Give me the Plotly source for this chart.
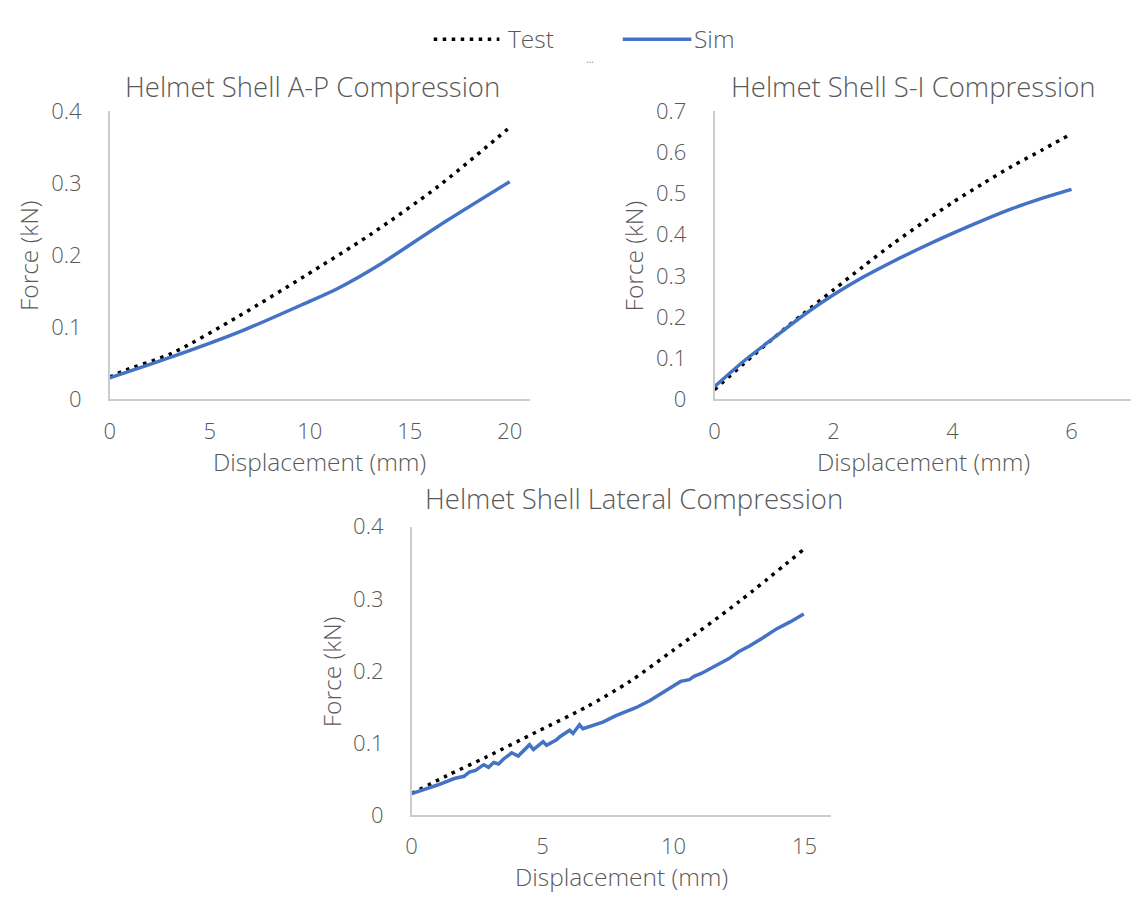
import plotly.graph_objects as go

W, H = 1133, 901

# ---------------- data ----------------
# A-P compression
ap_test_x = [0, 0.62, 3.1, 6.42, 9.74, 13.05, 16.4, 19.9]
ap_test_y = [0.031, 0.039, 0.064, 0.115, 0.171, 0.229, 0.295, 0.375]
ap_sim_x = [0, 3.1, 6.42, 9.74, 11.4, 13.55, 16.4, 20.0]
ap_sim_y = [0.030, 0.059, 0.093, 0.133, 0.154, 0.188, 0.240, 0.302]

# S-I compression
si_test_x = [0, 0.5, 1, 1.5, 2, 2.5, 3, 3.5, 4, 4.5, 5, 5.5, 5.95]
si_test_y = [0.024, 0.088, 0.150, 0.209, 0.266, 0.323, 0.378, 0.429, 0.478, 0.523, 0.566, 0.605, 0.641]
si_sim_x = [0, 0.5, 1, 1.5, 2, 2.5, 3, 3.5, 4, 4.5, 5, 5.5, 6]
si_sim_y = [0.031, 0.094, 0.150, 0.205, 0.254, 0.297, 0.335, 0.370, 0.403, 0.434, 0.463, 0.488, 0.510]

# Lateral compression
lat_test_x = [0, 1.36, 2.87, 4.77, 6.67, 8.31, 10, 12.5, 14.95]
lat_test_y = [0.030, 0.055, 0.081, 0.1155, 0.150, 0.185, 0.229, 0.296, 0.368]
lat_sim_x = [0, 0.99, 1.63, 2.0, 2.2, 2.44, 2.75, 2.94, 3.13, 3.32, 3.5, 3.82, 4.07, 4.5,
             4.65, 5.02, 5.15, 5.53, 5.66, 6.03, 6.16, 6.41, 6.54, 7.04, 7.3, 7.8, 8.56,
             9.1, 9.75, 10.27, 10.6, 10.8, 11.06, 11.58, 12.1, 12.5, 12.9, 13.4, 13.93,
             14.45, 14.97]
lat_sim_y = [0.030, 0.0418, 0.0508, 0.0539, 0.0597, 0.062, 0.070, 0.0664, 0.073, 0.0709,
             0.0776, 0.0865, 0.082, 0.0977, 0.091, 0.102, 0.0968, 0.1044, 0.1088, 0.1178,
             0.1133, 0.1253, 0.120, 0.1267, 0.129, 0.138, 0.149, 0.159, 0.174, 0.1855,
             0.188, 0.193, 0.1965, 0.2065, 0.2168, 0.227, 0.2346, 0.2458, 0.2583, 0.268,
             0.279]

titles = ["Helmet Shell A-P Compression", "Helmet Shell S-I Compression",
          "Helmet Shell Lateral Compression"]
x_label = "Displacement (mm)"
y_label = "Force (kN)"
series_names = ["Test", "Sim"]

# ---------------- style ----------------
FONT = "Open Sans"
WEIGHT = 300
TXT = "#595959"
AXC = "#CCCCCC"
BLUE = "#4472C4"
DOT = "3.5px,5.5px"


def px(x):
    return x / W


def py(y):
    return 1 - y / H


def f(size, color=TXT):
    return dict(family=FONT, size=size, color=color, weight=WEIGHT)


fig = go.Figure()

panels = [
    ("", (ap_test_x, ap_test_y), (ap_sim_x, ap_sim_y), (104.3, 526.5, 98.3, 396.7), [0, 21], 5, [0, 0.4], "spline"),
    ("2", (si_test_x, si_test_y), (si_sim_x, si_sim_y), (712.3, 1131, 98.3, 396.7), [0, 7], 2, [0, 0.7], "spline"),
    ("3", (lat_test_x, lat_test_y), (lat_sim_x, lat_sim_y), (407.8, 829.1, 528.3, 826.7), [0, 16], 5, [0, 0.4], "linear"),
]

for aid, (tx, ty), (sx, sy), (x0, x1, y0, y1), xr, dt, yr, simshape in panels:
    fig.add_trace(go.Scatter(x=tx, y=ty, mode="lines", name=series_names[0],
                             line=dict(color="black", width=3.5, dash=DOT, shape="spline", smoothing=0.8),
                             xaxis="x" + aid, yaxis="y" + aid, showlegend=False))
    sim_line = dict(color=BLUE, width=3.5, shape=simshape)
    if simshape == "spline":
        sim_line["smoothing"] = 0.8
    fig.add_trace(go.Scatter(x=sx, y=sy, mode="lines", name=series_names[1], line=sim_line,
                             xaxis="x" + aid, yaxis="y" + aid, showlegend=False))
    common = dict(showgrid=False, zeroline=False, showline=True, linecolor=AXC, linewidth=1.6,
                  ticks="", tickfont=f(22), fixedrange=True)
    fig.update_layout(**{
        "xaxis" + aid: dict(domain=[px(x0), px(x1)], range=xr, dtick=dt, tick0=0,
                            anchor="y" + aid, ticklabelstandoff=11, **common),
        "yaxis" + aid: dict(domain=[py(y1), py(y0)], range=yr, dtick=0.1, tick0=0,
                            anchor="x" + aid, ticklabelstandoff=22, **common),
    })

ann = []
for t, (cx, cy) in zip(titles, [(308.5, 73), (912, 73), (631, 499)]):
    ann.append(dict(text=t, x=px(cx), y=py(cy), xref="paper", yref="paper", showarrow=False,
                    xanchor="center", yanchor="middle", font=f(27.5)))
for (cx, cy) in [(315, 461), (922, 461), (618.5, 890)]:
    ann.append(dict(text=x_label, x=px(cx), y=py(cy), xref="paper", yref="paper", showarrow=False,
                    xanchor="center", yanchor="middle", font=f(24.5)))
for (cx, cy) in [(22.4, 248), (631, 248), (327.5, 678)]:
    ann.append(dict(text=y_label, x=px(cx), y=py(cy), xref="paper", yref="paper", showarrow=False,
                    textangle=-90, xanchor="center", yanchor="middle", font=f(24.5)))
# legend
ann.append(dict(text=series_names[0], x=px(503), y=py(23), xref="paper", yref="paper", showarrow=False,
                xanchor="left", yanchor="middle", font=f(24.5)))
ann.append(dict(text=series_names[1], x=px(690), y=py(23), xref="paper", yref="paper", showarrow=False,
                xanchor="left", yanchor="middle", font=f(24.5)))
ann.append(dict(text="...", x=px(587), y=py(44), xref="paper", yref="paper", showarrow=False,
                xanchor="center", yanchor="middle", font=dict(family=FONT, size=10, color="#909090")))

shapes = [
    dict(type="line", xref="paper", yref="paper", x0=px(430), x1=px(496), y0=py(24), y1=py(24),
         line=dict(color="black", width=3.5, dash=DOT)),
    dict(type="line", xref="paper", yref="paper", x0=px(620), x1=px(689), y0=py(24), y1=py(24),
         line=dict(color=BLUE, width=3.5)),
]

fig.update_layout(width=W, height=H, margin=dict(l=0, r=0, t=0, b=0),
                  paper_bgcolor="white", plot_bgcolor="white", showlegend=False,
                  annotations=ann, shapes=shapes)

fig.write_html("out.html", config={"displayModeBar": False})
